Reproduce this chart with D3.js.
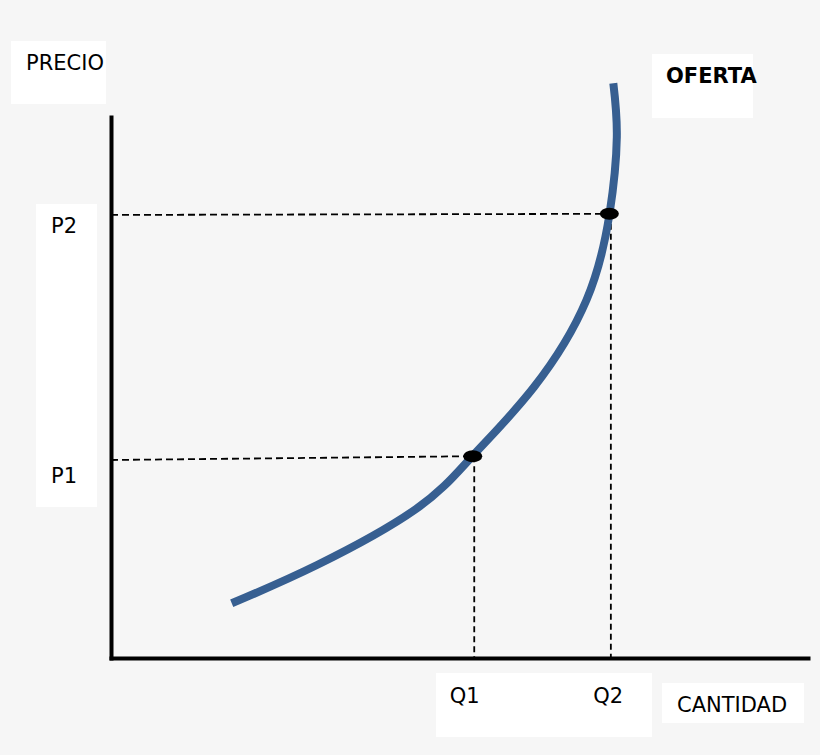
<!DOCTYPE html>
<html>
<head>
<meta charset="utf-8">
<script src="https://cdn.jsdelivr.net/npm/d3@7"></script>
<style>
  body { margin: 0; background: #f6f6f6; }
  text { font-family: 'DejaVu Sans', sans-serif; fill: #000; }
</style>
</head>
<body>
<svg id="canvas"></svg>
<script>
// supply curve, in chart units (0-100 on both axes)
let curveQ = [17.32, 29.56, 43.76, 51.87, 60.69, 68.22, 71.52, 72.57, 72.07]
let curveP = [10.11, 17.19, 27.54, 37.34, 50.09, 66.17, 82.07, 96.30, 106.23]

// marked points on the curve
let pointNames = ['1', '2']
let pointQ = [51.9, 71.5]
let pointP = [37.3, 82.1]
// where the horizontal guide meets the price axis
let guideLeftP = [36.6, 81.9]

let priceLabels = ['P1', 'P2']
let qtyLabels = ['Q1', 'Q2']

let width = 820
let height = 755

let svg = d3.select('#canvas')
	.attr('width', width)
	.attr('height', height)

let xScale = d3.scaleLinear()
			.domain([0, 100])
			.range([111, 808])

let yScale = d3.scaleLinear()
			.domain([0, 100])
			.range([658, 117])

// white label boxes
let boxes = [
	[11, 41, 95, 63],
	[36, 204, 61, 303],
	[652, 54, 101, 64],
	[436, 673, 216, 64],
	[662, 683, 142, 40]
]
svg.selectAll('rect.box')
	.data(boxes)
	.enter()
	.append('rect')
	.attr('class', 'box')
	.attr('x', d => d[0])
	.attr('y', d => d[1])
	.attr('width', d => d[2])
	.attr('height', d => d[3])
	.attr('fill', '#ffffff')

// guides
let guides = svg.append('g')
	.attr('stroke', '#000')
	.attr('stroke-width', 1.8)
	.attr('fill', 'none')

guides.selectAll('line.h')
	.data(pointNames)
	.enter()
	.append('line')
	.attr('class', 'h')
	.attr('x1', xScale(0))
	.attr('y1', (d, i) => yScale(guideLeftP[i]))
	.attr('x2', (d, i) => xScale(pointQ[i]))
	.attr('y2', (d, i) => yScale(pointP[i]))
	.attr('stroke-dasharray', '7,4')

guides.selectAll('line.v')
	.data(pointNames)
	.enter()
	.append('line')
	.attr('class', 'v')
	.attr('x1', (d, i) => xScale(pointQ[i]) + 1.5)
	.attr('y1', (d, i) => yScale(pointP[i]))
	.attr('x2', (d, i) => xScale(pointQ[i]) + 1.5)
	.attr('y2', yScale(0))
	.attr('stroke-dasharray', '6,4')

// axes
let yAxis = d3.axisLeft(yScale).tickValues([]).tickSizeOuter(0)
let xAxis = d3.axisBottom(xScale).tickValues([]).tickSizeOuter(0)

svg.append('g')
	.attr('id', 'y-axis')
	.attr('transform', `translate(${xScale(0)}, 0)`)
	.call(yAxis)
	.select('.domain')
	.attr('stroke', '#000')
	.attr('stroke-width', 4)
	.attr('stroke-linecap', 'square')

svg.append('g')
	.attr('id', 'x-axis')
	.attr('transform', `translate(0, ${yScale(0)})`)
	.call(xAxis)
	.select('.domain')
	.attr('stroke', '#000')
	.attr('stroke-width', 4)
	.attr('stroke-linecap', 'square')

// curve
let line = d3.line()
	.x((d, i) => xScale(curveQ[i]))
	.y((d, i) => yScale(curveP[i]))
	.curve(d3.curveNatural)

svg.append('path')
	.datum(curveQ)
	.attr('d', line)
	.attr('fill', 'none')
	.attr('stroke', '#375f91')
	.attr('stroke-width', 8)

// points
svg.selectAll('ellipse')
	.data(pointNames)
	.enter()
	.append('ellipse')
	.attr('cx', (d, i) => xScale(pointQ[i]))
	.attr('cy', (d, i) => yScale(pointP[i]))
	.attr('rx', 9.5)
	.attr('ry', 6)
	.attr('fill', '#000')

// labels
svg.selectAll('text.plab')
	.data(priceLabels)
	.enter()
	.append('text')
	.attr('class', 'plab')
	.attr('x', 51)
	.attr('y', (d, i) => yScale(pointP[i]) + (i === 0 ? 27 : 19))
	.attr('font-size', 21)
	.text(d => d)

svg.selectAll('text.qlab')
	.data(qtyLabels)
	.enter()
	.append('text')
	.attr('class', 'qlab')
	.attr('x', (d, i) => xScale(pointQ[i]) - (i === 0 ? 23 : 16))
	.attr('y', 703)
	.attr('font-size', 21)
	.text(d => d)

svg.append('text')
	.attr('x', 26)
	.attr('y', 70)
	.attr('font-size', 21)
	.text('PRECIO')

svg.append('text')
	.attr('x', 677)
	.attr('y', 712)
	.attr('font-size', 21)
	.text('CANTIDAD')

svg.append('text')
	.attr('x', 666)
	.attr('y', 83)
	.attr('font-size', 21)
	.attr('font-weight', 'bold')
	.text('OFERTA')
</script>
</body>
</html>
